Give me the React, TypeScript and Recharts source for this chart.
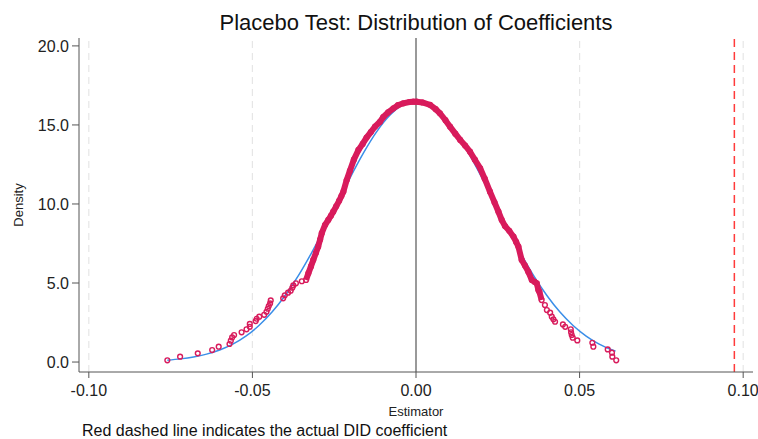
import React from "react";
import {
  ComposedChart,
  Line,
  Scatter,
  XAxis,
  YAxis,
  ReferenceLine,
} from "recharts";

// ---------- data ----------
const xTicks = [-0.1, -0.05, 0, 0.05, 0.1];
const gridX = [-0.1, -0.05, 0.05, 0.1];
const yTicks = [0, 5, 10, 15, 20];
const actualDID = 0.0973;

// Normal density reference curve (blue)
const normalX = [
  -0.076, -0.072, -0.068, -0.064, -0.06, -0.056, -0.052, -0.048, -0.044, -0.04,
  -0.036, -0.032, -0.028, -0.024, -0.02, -0.016, -0.012, -0.008, -0.004, 0,
  0.004, 0.008, 0.012, 0.016, 0.02, 0.024, 0.028, 0.032, 0.036, 0.04, 0.044,
  0.048, 0.052, 0.056, 0.06, 0.061,
];
const normalY = [
  0.12, 0.2, 0.32, 0.5, 0.76, 1.13, 1.64, 2.31, 3.16, 4.21, 5.45, 6.88, 8.45,
  10.08, 11.72, 13.25, 14.58, 15.61, 16.27, 16.49, 16.27, 15.61, 14.58, 13.25,
  11.72, 10.08, 8.45, 6.88, 5.45, 4.21, 3.16, 2.31, 1.64, 1.13, 0.76, 0.69,
];

// Kernel density of placebo coefficients (red markers): left tail
const leftTailX = [
  -0.076, -0.0721, -0.0667, -0.0623, -0.0603, -0.057, -0.0566, -0.0562, -0.0556,
  -0.0533, -0.0518, -0.0508, -0.0508, -0.049, -0.0487, -0.0479, -0.0464, -0.0457,
  -0.0453, -0.045, -0.0446, -0.0444, -0.0406, -0.0401, -0.0391, -0.0383, -0.0378,
  -0.0375, -0.0367, -0.0349,
];
const leftTailY = [
  0.11, 0.34, 0.55, 0.76, 0.97, 1.14, 1.35, 1.56, 1.71, 1.88, 2.07, 2.23, 2.41,
  2.59, 2.74, 2.87, 2.99, 3.18, 3.37, 3.54, 3.71, 3.9, 4.03, 4.22, 4.39, 4.51,
  4.7, 4.85, 4.98, 5.11,
];

// dense central part (markers overlap into a thick curve)
const coreX = [
  -0.0336, -0.0329, -0.0321, -0.0314, -0.0306, -0.0299, -0.0293, -0.0288, -0.0278,
  -0.0268, -0.026, -0.0253, -0.0244, -0.0235, -0.0228, -0.0222, -0.0212, -0.0202,
  -0.019, -0.0176, -0.0163, -0.0151, -0.0138, -0.0125, -0.011, -0.01, -0.0085,
  -0.0069, -0.0055, -0.0039, -0.002, -0.0008, 0.0002, 0.002, 0.0043, 0.006,
  0.0073, 0.009, 0.0104, 0.012, 0.0135, 0.015, 0.0165, 0.018, 0.0196, 0.021,
  0.0226, 0.024, 0.0252, 0.0262, 0.0272, 0.0285, 0.0298, 0.0306, 0.0313, 0.0323,
  0.0333, 0.0343, 0.0354, 0.0362, 0.0369, 0.0374, 0.0377, 0.0384,
];
const coreY = [
  5.19, 5.61, 6.05, 6.46, 6.9, 7.3, 7.75, 8.15, 8.67, 8.99, 9.25, 9.51, 9.85,
  10.2, 10.5, 10.78, 11.5, 12.1, 12.8, 13.42, 13.8, 14.2, 14.55, 14.9, 15.2, 15.5,
  15.8, 16.05, 16.25, 16.37, 16.45, 16.47, 16.47, 16.42, 16.27, 16.0, 15.74, 15.3,
  14.89, 14.45, 14.05, 13.7, 13.31, 12.8, 12.26, 11.6, 10.78, 10.1, 9.51, 8.99,
  8.6, 8.3, 7.93, 7.6, 7.3, 6.46, 6.1, 5.72, 5.19, 5.08, 4.98, 4.56, 4.45, 3.92,
];

// right tail
const rightTailX = [
  0.0394, 0.04, 0.041, 0.0415, 0.042, 0.0425, 0.0449, 0.0456, 0.0473, 0.0474,
  0.0476, 0.0479, 0.0493, 0.0539, 0.0542, 0.0586, 0.0599, 0.06, 0.0612,
];
const rightTailY = [
  3.61, 3.29, 3.12, 2.87, 2.7, 2.55, 2.38, 2.23, 2.07, 1.88, 1.71, 1.54, 1.37,
  1.22, 0.97, 0.8, 0.59, 0.34, 0.11,
];

// ---------- build series ----------
const zip = (xs: number[], ys: number[]) => xs.map((x, i) => ({ x, y: ys[i] }));
const normalData = zip(normalX, normalY);
const coreData = zip(coreX, coreY);
const kdePoints = [
  ...zip(leftTailX, leftTailY),
  ...coreData,
  ...zip(rightTailX, rightTailY),
];

const RED = "#d81b5c";
const BLUE = "#3a8ee8";
const FONT = "'Liberation Sans', Arial, Helvetica, sans-serif";

const Ring = (props: any) => {
  const { cx, cy } = props;
  if (cx == null || cy == null) return null;
  return (
    <circle cx={cx} cy={cy} r={2.4} fill="none" stroke={RED} strokeWidth={1.4} />
  );
};

export default function App() {
  return (
    <div
      style={{
        position: "absolute",
        left: 0,
        top: 0,
        width: 758,
        height: 439,
        background: "#fff",
        fontFamily: FONT,
      }}
    >
      <ComposedChart
        width={758}
        height={439}
        margin={{ top: 38, right: 5, bottom: 37, left: 0 }}
      >
        <XAxis
          type="number"
          dataKey="x"
          domain={[-0.103, 0.103]}
          ticks={xTicks}
          tickFormatter={(v: number) => v.toFixed(2)}
          allowDataOverflow
          height={30}
          tickSize={6}
          tickMargin={7}
          stroke="#555"
          tick={{ fill: "#222", fontSize: 16, fontFamily: FONT }}
        />
        <YAxis
          type="number"
          domain={[-0.63, 20.5]}
          ticks={yTicks}
          tickFormatter={(v: number) => v.toFixed(1)}
          allowDataOverflow
          width={79}
          tickSize={7}
          tickMargin={3}
          stroke="#555"
          tick={{ fill: "#222", fontSize: 16, fontFamily: FONT }}
        />
        {gridX.map((g) => (
          <ReferenceLine
            key={g}
            x={g}
            stroke="#e6e6e6"
            strokeWidth={1.2}
            strokeDasharray="7 5"
          />
        ))}
        <ReferenceLine x={0} stroke="#6e6e6e" strokeWidth={1.4} />
        <ReferenceLine
          x={actualDID}
          stroke="#ff3b3b"
          strokeWidth={1.5}
          strokeDasharray="8 5"
        />
        <Line
          data={normalData}
          dataKey="y"
          type="monotone"
          stroke={BLUE}
          strokeWidth={1.5}
          dot={false}
          isAnimationActive={false}
        />
        <Line
          data={coreData}
          dataKey="y"
          type="linear"
          stroke={RED}
          strokeWidth={6}
          dot={false}
          isAnimationActive={false}
        />
        <Scatter
          data={kdePoints}
          dataKey="y"
          shape={<Ring />}
          isAnimationActive={false}
        />
      </ComposedChart>
      <svg
        width={758}
        height={439}
        style={{ position: "absolute", left: 0, top: 0, pointerEvents: "none" }}
      >
        <text
          x={416}
          y={30}
          textAnchor="middle"
          fontSize={22}
          fill="#111"
          fontFamily={FONT}
        >
          Placebo Test: Distribution of Coefficients
        </text>
        <text
          x={416}
          y={416}
          textAnchor="middle"
          fontSize={13}
          fill="#222"
          fontFamily={FONT}
        >
          Estimator
        </text>
        <text
          transform="translate(22.5,205) rotate(-90)"
          textAnchor="middle"
          fontSize={13}
          fill="#222"
          fontFamily={FONT}
        >
          Density
        </text>
        <text x={82} y={436} fontSize={16} fill="#111" fontFamily={FONT}>
          Red dashed line indicates the actual DID coefficient
        </text>
      </svg>
    </div>
  );
}
